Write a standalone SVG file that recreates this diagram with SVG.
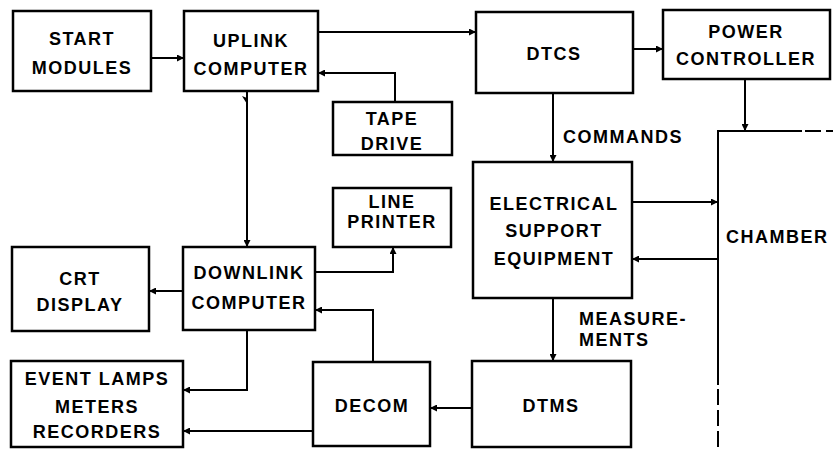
<svg xmlns="http://www.w3.org/2000/svg" width="833" height="449" viewBox="0 0 833 449">
<defs>
<style>
.box{fill:#fff;stroke:#000;stroke-width:2.5}
.t{font-family:"Liberation Sans",Arial,sans-serif;font-weight:bold;font-size:18px;letter-spacing:1.5px;fill:#000;text-anchor:middle}
.l{text-anchor:start}
.c{fill:none;stroke:#000;stroke-width:2}
.d{fill:none;stroke:#000;stroke-width:2;stroke-dasharray:16 5}
</style>
<marker id="a" viewBox="0 0 10 10" refX="10" refY="5" markerWidth="9" markerHeight="7" markerUnits="userSpaceOnUse" orient="auto">
<path d="M0,0 L10,5 L0,10 Z" fill="#000"/>
</marker>
</defs>
<rect width="833" height="449" fill="#fff"/>
<g id="connectors">
<path class="c" d="M152,58 H184" marker-end="url(#a)"/>
<path class="c" d="M318,32 H476" marker-end="url(#a)"/>
<path class="c" d="M633,49 H663" marker-end="url(#a)"/>
<path class="c" d="M395,102 V73 H318" marker-end="url(#a)"/>
<path class="c" d="M247,91 V247" marker-end="url(#a)"/>
<path d="M242,96 L247,98 L247,104 Z" fill="#000"/>
<path class="c" d="M553,93 V162" marker-end="url(#a)"/>
<path class="c" d="M745,79 V131" marker-end="url(#a)"/>
<path class="c" d="M632,202 H718" marker-end="url(#a)"/>
<path class="c" d="M718,259 H632" marker-end="url(#a)"/>
<path class="c" d="M553,298 V361" marker-end="url(#a)"/>
<path class="c" d="M472,408 H430" marker-end="url(#a)"/>
<path class="c" d="M373,362 V310 H315" marker-end="url(#a)"/>
<path class="c" d="M313,431 H183" marker-end="url(#a)"/>
<path class="c" d="M247,330 V390 H183" marker-end="url(#a)"/>
<path class="c" d="M183,291 H149" marker-end="url(#a)"/>
<path class="c" d="M315,272 H393 V247" marker-end="url(#a)"/>
</g>
<g id="chamber">
<path class="c" d="M718,385 V131 H802"/>
<path class="d" d="M805,131 H833"/>
<path class="d" d="M718,389 V449"/>
<text class="t l" x="726" y="243">CHAMBER</text>
</g>
<g id="start-modules">
<rect class="box" x="13" y="11" width="138" height="80"/>
<text class="t" x="82" y="45">START</text>
<text class="t" x="82" y="74">MODULES</text>
</g>
<g id="uplink-computer">
<rect class="box" x="184" y="11" width="134" height="80"/>
<text class="t" x="251" y="47">UPLINK</text>
<text class="t" x="251" y="75">COMPUTER</text>
</g>
<g id="dtcs">
<rect class="box" x="476" y="12" width="157" height="81"/>
<text class="t" x="554" y="60">DTCS</text>
</g>
<g id="power-controller">
<rect class="box" x="663" y="10" width="167" height="69"/>
<text class="t" x="746" y="38">POWER</text>
<text class="t" x="746" y="65">CONTROLLER</text>
</g>
<g id="tape-drive">
<rect class="box" x="333" y="102" width="119" height="53"/>
<text class="t" x="392" y="125">TAPE</text>
<text class="t" x="392" y="150">DRIVE</text>
</g>
<g id="commands-label"><text class="t l" x="563" y="143">COMMANDS</text></g>
<g id="ese">
<rect class="box" x="473" y="162" width="159" height="136"/>
<text class="t" x="554" y="210">ELECTRICAL</text>
<text class="t" x="554" y="237">SUPPORT</text>
<text class="t" x="554" y="265">EQUIPMENT</text>
</g>
<g id="line-printer">
<rect class="box" x="333" y="188" width="118" height="59"/>
<text class="t" x="392" y="208">LINE</text>
<text class="t" x="392" y="228">PRINTER</text>
</g>
<g id="crt-display">
<rect class="box" x="12" y="247" width="137" height="84"/>
<text class="t" x="80" y="285">CRT</text>
<text class="t" x="80" y="311">DISPLAY</text>
</g>
<g id="downlink-computer">
<rect class="box" x="183" y="247" width="132" height="83"/>
<text class="t" x="249" y="279">DOWNLINK</text>
<text class="t" x="249" y="309">COMPUTER</text>
</g>
<g id="measurements-label">
<text class="t l" x="579" y="325">MEASURE-</text>
<text class="t l" x="579" y="346">MENTS</text>
</g>
<g id="event-lamps">
<rect class="box" x="11" y="361" width="172" height="86"/>
<text class="t" x="97" y="385">EVENT LAMPS</text>
<text class="t" x="97" y="413">METERS</text>
<text class="t" x="97" y="438">RECORDERS</text>
</g>
<g id="decom">
<rect class="box" x="313" y="362" width="117" height="84"/>
<text class="t" x="372" y="412">DECOM</text>
</g>
<g id="dtms">
<rect class="box" x="472" y="361" width="159" height="86"/>
<text class="t" x="551" y="412">DTMS</text>
</g>
</svg>
